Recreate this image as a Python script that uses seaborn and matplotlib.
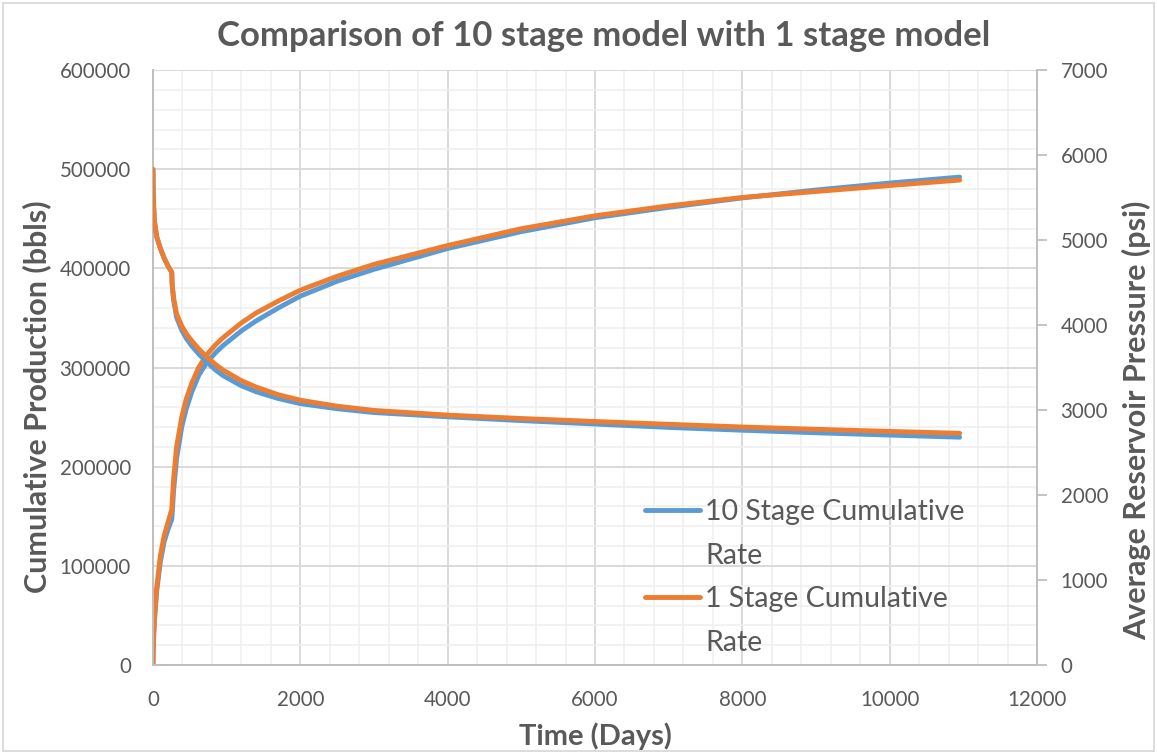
import matplotlib
matplotlib.use("Agg")
import matplotlib.pyplot as plt
import seaborn as sns
from matplotlib.lines import Line2D
from matplotlib.patches import Rectangle
from matplotlib.ticker import MultipleLocator

# ---------------- data ----------------
time_days = [0, 2, 10, 20, 50, 100, 150, 200, 255, 260, 280, 320, 390, 450, 525,
             620, 730, 850, 950, 1200, 1400, 1700, 2000, 2500, 3000, 4000, 5000, 6000,
             7000, 8000, 9000, 10000, 10950]

cum_1_stage = [0, 12000, 32000, 48000, 78000, 110000, 130000, 143000, 157000, 164000,
               188000, 220000, 250000, 268000, 284000, 300000, 313000, 323000, 330000, 345000,
               355000, 367000, 378000, 392000, 404000, 423000, 440000, 453000, 463000, 471500,
               477500, 483500, 489000]

cum_10_stage = [0, 11000, 30000, 45000, 74000, 104000, 124000, 136000, 147000, 152000,
                176000, 208000, 240000, 258000, 275000, 292000, 305000, 315000, 322000, 337000,
                347000, 360000, 372000, 387000, 399000, 420000, 437000, 451000, 461500, 471000,
                479000, 486000, 492000]

pres_1_stage = [5830, 5600, 5380, 5220, 5040, 4900, 4790, 4700, 4620, 4480,
                4320, 4130, 3990, 3900, 3815, 3720, 3625, 3535, 3470, 3345,
                3270, 3180, 3115, 3045, 2995, 2940, 2900, 2865, 2832, 2800,
                2773, 2748, 2726]

pres_10_stage = [5830, 5600, 5380, 5220, 5040, 4900, 4790, 4700, 4620, 4470,
                 4290, 4090, 3940, 3845, 3755, 3660, 3565, 3470, 3405, 3285,
                 3215, 3135, 3075, 3015, 2970, 2920, 2875, 2835, 2795, 2762,
                 2732, 2705, 2680]

title_text = "Comparison of 10 stage model with 1 stage model"
x_label = "Time (Days)"
y_label_left = "Cumulative Production (bbls)"
y_label_right = "Average Reservoir Pressure (psi)"
legend_labels = ["10 Stage Cumulative", "Rate", "1 Stage Cumulative", "Rate"]

# ---------------- style ----------------
BLUE = "#5B9BD5"
ORANGE = "#ED7D31"
TEXT = "#595959"
GRID_MAJOR = "#D9D9D9"
GRID_MINOR = "#EFEFEF"
SPINE = "#BFBFBF"
LW = 3.5

sns.set_theme(style="white")
plt.rcParams['font.family'] = ['Lato', 'DejaVu Sans']

W, H = 1157, 754
fig = plt.figure(figsize=(W / 100, H / 100), dpi=100)
left, right, top, bottom = 153, 1037, 70, 665
ax = fig.add_axes([left / W, 1 - bottom / H, (right - left) / W, (bottom - top) / H])
ax2 = ax.twinx()

# ---------------- lines ----------------
sns.lineplot(x=time_days, y=cum_10_stage, ax=ax, color=BLUE, linewidth=LW,
             legend=False, sort=False, estimator=None)
sns.lineplot(x=time_days, y=cum_1_stage, ax=ax, color=ORANGE, linewidth=LW,
             legend=False, sort=False, estimator=None)
sns.lineplot(x=time_days, y=pres_10_stage, ax=ax2, color=BLUE, linewidth=LW,
             legend=False, sort=False, estimator=None)
sns.lineplot(x=time_days, y=pres_1_stage, ax=ax2, color=ORANGE, linewidth=LW,
             legend=False, sort=False, estimator=None)

# ---------------- axes ----------------
ax.set_xlim(0, 12000)
ax.set_ylim(0, 600000)
ax2.set_ylim(0, 7000)

ax.xaxis.set_major_locator(MultipleLocator(2000))
ax.xaxis.set_minor_locator(MultipleLocator(400))
ax.yaxis.set_major_locator(MultipleLocator(100000))
ax.yaxis.set_minor_locator(MultipleLocator(20000))
ax2.yaxis.set_major_locator(MultipleLocator(1000))

ax.grid(which='minor', color=GRID_MINOR, linewidth=1.1)
ax.grid(which='major', color=GRID_MAJOR, linewidth=1.4)
ax.set_axisbelow(True)

ax.tick_params(axis='both', which='both', length=0, labelsize=14.8, labelcolor=TEXT)
ax.tick_params(axis='x', pad=18)
ax.tick_params(axis='y', pad=16)
ax2.tick_params(axis='y', which='major', length=7, width=1.3, color=SPINE, direction='out',
                labelsize=14.8, labelcolor=TEXT, pad=10)
ax2.tick_params(axis='y', which='minor', length=0)

for name, sp in ax.spines.items():
    if name in ('left', 'bottom'):
        sp.set_color(SPINE)
        sp.set_linewidth(1.4)
    else:
        sp.set_visible(False)
for name, sp in ax2.spines.items():
    if name == 'right':
        sp.set_color(SPINE)
        sp.set_linewidth(1.4)
    else:
        sp.set_visible(False)

ax.set_xlabel(x_label, fontsize=21, fontweight='bold', color=TEXT, labelpad=9)
ax.set_ylabel(y_label_left, fontsize=22, fontweight='bold', color=TEXT, labelpad=6)
ax2.set_ylabel(y_label_right, fontsize=22, fontweight='bold', color=TEXT, labelpad=10)
ax.yaxis.label.set_y((bottom - 397) / (bottom - top))
ax2.yaxis.label.set_y((bottom - 420) / (bottom - top))

fig.text(604 / W, 1 - 36 / H, title_text, ha='center', va='center',
         fontsize=25, fontweight='bold', color=TEXT)

# ---------------- legend ----------------
handles = [Line2D([], [], color=BLUE, lw=LW, solid_capstyle='round'),
           Line2D([], [], color='none', lw=LW),
           Line2D([], [], color=ORANGE, lw=LW, solid_capstyle='round'),
           Line2D([], [], color='none', lw=LW)]
leg = ax2.legend(handles, legend_labels, loc='upper left',
                 bbox_to_anchor=((645 - left) / (right - left), (bottom - 499) / (bottom - top)),
                 frameon=False, fontsize=20.5, handlelength=1.93, handletextpad=0.18,
                 labelspacing=0.62, borderpad=0, borderaxespad=0)
for t in leg.get_texts():
    t.set_color(TEXT)

# ---------------- chart border ----------------
fig.patches.append(Rectangle((3 / W, 3 / H), 1 - 6 / W, 1 - 6 / H, transform=fig.transFigure,
                             fill=False, edgecolor=GRID_MAJOR, linewidth=1.3))

fig.savefig("out.png", dpi=100)
